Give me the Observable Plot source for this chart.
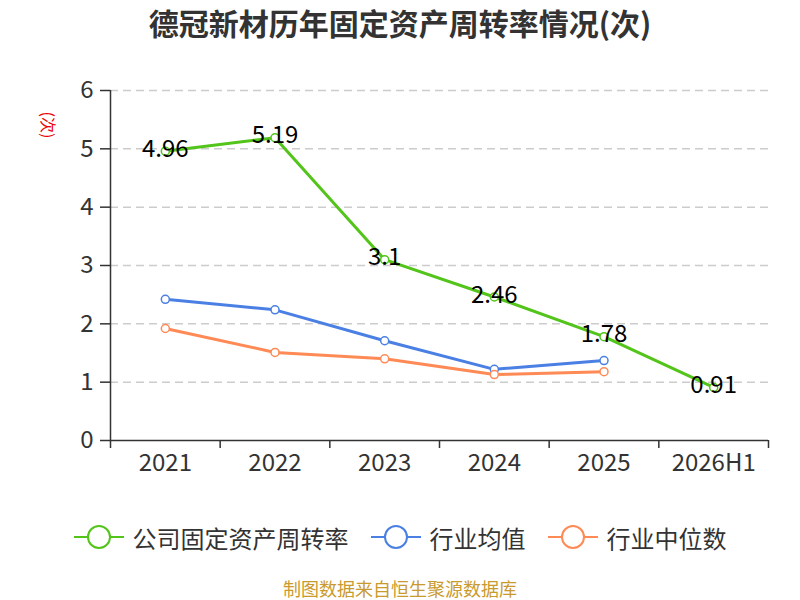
<!DOCTYPE html>
<html>
<head>
<meta charset="utf-8">
<script src="https://cdn.jsdelivr.net/npm/d3@7"></script>
<script src="https://cdn.jsdelivr.net/npm/@observablehq/plot@0.6"></script>
<style>
  html, body { margin: 0; padding: 0; background: #fff; }
  #wrap { position: relative; width: 800px; height: 600px; overflow: hidden; font-family: "Noto Sans CJK SC", "Noto Sans", sans-serif; }
  #title { position: absolute; left: 0; top: 4px; width: 800px; text-align: center; font-size: 30px; font-weight: bold; color: #333; line-height: 36px; }
  #chart { position: absolute; left: 0; top: 0; }
  #ylab { position: absolute; left: 34px; top: 112px; width: 30px; height: 26px; color: #e00; font-size: 16px; line-height: 26px; text-align: center; transform: rotate(90deg); }
  #legend { position: absolute; left: 0; top: 520px; width: 800px; display: flex; justify-content: center; align-items: center; height: 34px; }
  .item { display: flex; align-items: center; margin: 0 11px; font-size: 24px; color: #333; }
  .item svg { margin-right: 9px; }
  #footer { position: absolute; left: 0; top: 578px; width: 800px; text-align: center; font-size: 18px; color: #c99a2e; line-height: 20px; }
</style>
</head>
<body>
<div id="wrap">
  <div id="chart"></div>
  <div id="title"></div>
  <div id="ylab"></div>
  <div id="legend"></div>
  <div id="footer"></div>
</div>
<script>
const categories = ["2021", "2022", "2023", "2024", "2025", "2026H1"];
const companyValues = [4.96, 5.19, 3.1, 2.46, 1.78, 0.91];
const industryMean = [2.42, 2.24, 1.71, 1.22, 1.37];
const industryMedian = [1.92, 1.51, 1.40, 1.13, 1.18];
const yTicks = [0, 1, 2, 3, 4, 5, 6];
const seriesNames = ["公司固定资产周转率", "行业均值", "行业中位数"];
const seriesColors = ["#52c41a", "#4a7fe3", "#ff8a55"];
const titleText = "德冠新材历年固定资产周转率情况(次)";
const unitText = "(次)";
const footerText = "制图数据来自恒生聚源数据库";

const idx = categories.map((c, i) => i);
const boundaries = categories.map((c, i) => i - 0.5).concat([categories.length - 0.5]);
const rows = [];
[companyValues, industryMean, industryMedian].forEach((vals, s) => {
  vals.forEach((v, i) => rows.push({series: seriesNames[s], i, v}));
});
const companyRows = rows.filter(d => d.series === seriesNames[0]);

const chart = Plot.plot({
  width: 800,
  height: 500,
  marginTop: 90,
  marginLeft: 110,
  marginRight: 32,
  marginBottom: 60,
  style: {fontFamily: '"Noto Sans CJK SC", "Noto Sans", sans-serif', background: "transparent", overflow: "visible"},
  x: {type: "linear", domain: [-0.5, categories.length - 0.5]},
  y: {domain: [0, 6]},
  color: {domain: seriesNames, range: seriesColors},
  marks: [
    Plot.ruleY(yTicks.filter(t => t > 0), {stroke: "#cccccc", strokeWidth: 1.5, strokeDasharray: "8,5"}),
    Plot.axisY({ticks: yTicks, tickSize: 10, tickPadding: 7, tickFormat: d => String(d), fontSize: 24, stroke: "#333", strokeWidth: 1.5, color: "#333", label: null}),
    Plot.ruleX([-0.5], {y1: 0, y2: 6, stroke: "#333", strokeWidth: 1.5}),
    Plot.axisX({ticks: boundaries, tickSize: 8, tickFormat: () => "", stroke: "#333", strokeWidth: 1.5, label: null}),
    Plot.axisX({ticks: idx, tickSize: 0, tickPadding: 13, tickFormat: i => categories[i], fontSize: 24, color: "#333", label: null}),
    Plot.ruleY([0], {stroke: "#333", strokeWidth: 1.5}),
    Plot.line(rows, {x: "i", y: "v", z: "series", stroke: "series", strokeWidth: 3}),
    Plot.dot(rows, {x: "i", y: "v", stroke: "series", fill: "white", r: 4, strokeWidth: 1.5}),
    Plot.text(companyRows, {x: "i", y: "v", text: d => String(d.v), fontSize: 24, fill: "black", dy: -2})
  ]
});
document.getElementById("chart").appendChild(chart);
document.getElementById("title").textContent = titleText;
document.getElementById("ylab").textContent = unitText;
document.getElementById("footer").textContent = footerText;

const legend = document.getElementById("legend");
seriesNames.forEach((name, s) => {
  const item = document.createElement("div");
  item.className = "item";
  item.innerHTML = `<svg width="50" height="26"><line x1="0" x2="50" y1="13" y2="13" stroke="${seriesColors[s]}" stroke-width="2"/><circle cx="25" cy="13" r="11" fill="white" stroke="${seriesColors[s]}" stroke-width="2"/></svg><span></span>`;
  item.querySelector("span").textContent = name;
  legend.appendChild(item);
});
</script>
</body>
</html>
